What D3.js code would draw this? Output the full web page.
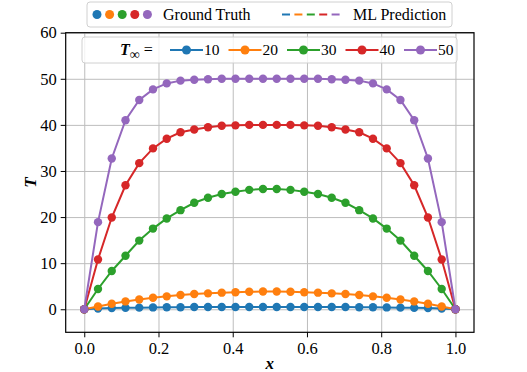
<!DOCTYPE html>
<html>
<head>
<meta charset="utf-8">
<script src="https://cdn.jsdelivr.net/npm/d3@7"></script>
<style>
body { margin: 0; background: #fff; }
svg text { font-family: "Liberation Serif", "DejaVu Serif", serif; fill: #000; }
</style>
</head>
<body>
<div id="chart"></div>
<script>
// grid of 28 nodes on [0, 1]
var xs = d3.range(28).map(function(i) { return i / 27; });

var tInf = ["10", "20", "30", "40", "50"];
var colors = ["#1f77b4", "#ff7f0e", "#2ca02c", "#d62728", "#9467bd"];

var t10 = [0, 0.15, 0.25, 0.3, 0.35, 0.4, 0.45, 0.45, 0.5, 0.5, 0.5, 0.5, 0.5, 0.5,
	0.5, 0.5, 0.5, 0.5, 0.5, 0.5, 0.45, 0.45, 0.4, 0.35, 0.3, 0.25, 0.15, 0];
var t20 = [0, 0.6, 1.2, 1.7, 2.1, 2.5, 2.8, 3.1, 3.3, 3.45, 3.6, 3.7, 3.8, 3.85,
	3.85, 3.8, 3.7, 3.6, 3.45, 3.3, 3.1, 2.8, 2.5, 2.1, 1.7, 1.2, 0.6, 0];
var t30 = [0, 4.4, 8.3, 11.6, 14.9, 17.5, 19.7, 21.5, 23.1, 24.2, 25.0, 25.5, 25.9, 26.1,
	26.1, 25.9, 25.5, 25.0, 24.2, 23.1, 21.5, 19.7, 17.5, 14.9, 11.6, 8.3, 4.4, 0];
var t40 = [0, 10.8, 19.9, 26.9, 31.7, 34.9, 37.0, 38.4, 39.0, 39.5, 39.8, 39.9, 40.0, 40.0,
	40.0, 40.0, 39.9, 39.8, 39.5, 39.0, 38.4, 37.0, 34.9, 31.7, 26.9, 19.9, 10.8, 0];
var t50 = [0, 18.9, 32.7, 41.0, 45.4, 47.7, 49.0, 49.6, 49.8, 49.9, 50, 50, 50, 50,
	50, 50, 50, 50, 49.9, 49.8, 49.6, 49.0, 47.7, 45.4, 41.0, 32.7, 18.9, 0];

var series = [t10, t20, t30, t40, t50];

var xTicks = [0, 0.2, 0.4, 0.6, 0.8, 1.0];
var yTicks = [0, 10, 20, 30, 40, 50, 60];

var W = 527, H = 372;
var axL = 65.7, axR = 474, axT = 32.7, axB = 332.3;

var svg = d3.select("#chart").append("svg")
	.attr("width", W)
	.attr("height", H);

var x = d3.scaleLinear().domain([-0.05, 1.05]).range([axL, axR]);
var y = d3.scaleLinear().domain([-5, 60]).range([axB, axT]);

// Grid
svg.append("g")
	.attr("transform", "translate(0," + axB + ")")
	.call(d3.axisBottom(x).tickValues(xTicks).tickSize(-(axB - axT)).tickFormat(""))
	.call(function(g) {
		g.select(".domain").remove();
		g.selectAll("line").attr("stroke", "#bdbdbd").attr("stroke-width", 1);
	});

svg.append("g")
	.attr("transform", "translate(" + axL + ",0)")
	.call(d3.axisLeft(y).tickValues(yTicks).tickSize(-(axR - axL)).tickFormat(""))
	.call(function(g) {
		g.select(".domain").remove();
		g.selectAll("line").attr("stroke", "#bdbdbd").attr("stroke-width", 1);
	});

// Curves
var line = d3.line()
	.x(function(d, i) { return x(xs[i]); })
	.y(function(d) { return y(d); });

series.forEach(function(s, k) {
	var g = svg.append("g");
	g.append("path")
		.datum(s)
		.attr("d", line)
		.attr("fill", "none")
		.attr("stroke", colors[k])
		.attr("stroke-width", 2);
	g.selectAll("circle")
		.data(s)
		.enter().append("circle")
		.attr("cx", function(d, i) { return x(xs[i]); })
		.attr("cy", function(d) { return y(d); })
		.attr("r", 4.2)
		.attr("fill", colors[k]);
});

// Axes
svg.append("g")
	.attr("transform", "translate(0," + axB + ")")
	.call(d3.axisBottom(x).tickValues(xTicks).tickSize(5).tickPadding(5).tickFormat(d3.format(".1f")))
	.call(function(g) {
		g.select(".domain").remove();
		g.selectAll("text").style("font-size", "16.5px").style("font-family", "Liberation Serif");
	});

svg.append("g")
	.attr("transform", "translate(" + axL + ",0)")
	.call(d3.axisLeft(y).tickValues(yTicks).tickSize(5).tickPadding(4).tickFormat(d3.format("d")))
	.call(function(g) {
		g.select(".domain").remove();
		g.selectAll("text").style("font-size", "16.5px").style("font-family", "Liberation Serif");
	});

svg.append("rect")
	.attr("x", axL)
	.attr("y", axT)
	.attr("width", axR - axL)
	.attr("height", axB - axT)
	.attr("fill", "none")
	.attr("stroke", "#000")
	.attr("stroke-width", 1.2);

// Axis labels
svg.append("text")
	.attr("x", x(0.5))
	.attr("y", 369)
	.attr("text-anchor", "middle")
	.style("font-size", "17px")
	.style("font-weight", "bold")
	.style("font-style", "italic")
	.text("x");

svg.append("text")
	.attr("transform", "translate(36," + y(27.5) + ") rotate(-90)")
	.attr("text-anchor", "middle")
	.style("font-size", "17px")
	.style("font-weight", "bold")
	.style("font-style", "italic")
	.text("T");

// Legend inside the axes
var leg = svg.append("g");
leg.append("rect")
	.attr("x", 82)
	.attr("y", 37)
	.attr("width", 375)
	.attr("height", 26)
	.attr("rx", 3)
	.attr("fill", "#fff")
	.attr("fill-opacity", 0.8)
	.attr("stroke", "#d0d0d0");

var lt = leg.append("text")
	.attr("x", 120)
	.attr("y", 55)
	.style("font-size", "16px");
lt.append("tspan").style("font-weight", "bold").style("font-style", "italic").text("T");
lt.append("tspan").attr("dy", 4).style("font-size", "14px").text("\u221E");
lt.append("tspan").attr("dy", -4).text(" =");

tInf.forEach(function(t, k) {
	var x0 = 170 + k * 58.5;
	leg.append("line")
		.attr("x1", x0).attr("x2", x0 + 33)
		.attr("y1", 50).attr("y2", 50)
		.attr("stroke", colors[k])
		.attr("stroke-width", 2);
	leg.append("circle")
		.attr("cx", x0 + 16.5)
		.attr("cy", 50)
		.attr("r", 4.5)
		.attr("fill", colors[k]);
	leg.append("text")
		.attr("x", x0 + 34)
		.attr("y", 55)
		.style("font-size", "15.5px")
		.text(t);
});

// Legend above the axes
var topLeg = svg.append("g");
topLeg.append("rect")
	.attr("x", 87)
	.attr("y", 2)
	.attr("width", 365)
	.attr("height", 25)
	.attr("rx", 3)
	.attr("fill", "#fff")
	.attr("stroke", "#d0d0d0");

colors.forEach(function(c, k) {
	topLeg.append("circle")
		.attr("cx", 97 + k * 12.6)
		.attr("cy", 14.5)
		.attr("r", 4.5)
		.attr("fill", c);
	topLeg.append("line")
		.attr("x1", 282 + k * 12.4).attr("x2", 282 + k * 12.4 + 8)
		.attr("y1", 14.5).attr("y2", 14.5)
		.attr("stroke", c)
		.attr("stroke-width", 2);
});

topLeg.append("text")
	.attr("x", 163)
	.attr("y", 19.5)
	.style("font-size", "16px")
	.text("Ground Truth");

topLeg.append("text")
	.attr("x", 353)
	.attr("y", 19.5)
	.style("font-size", "16px")
	.text("ML Prediction");
</script>
</body>
</html>
